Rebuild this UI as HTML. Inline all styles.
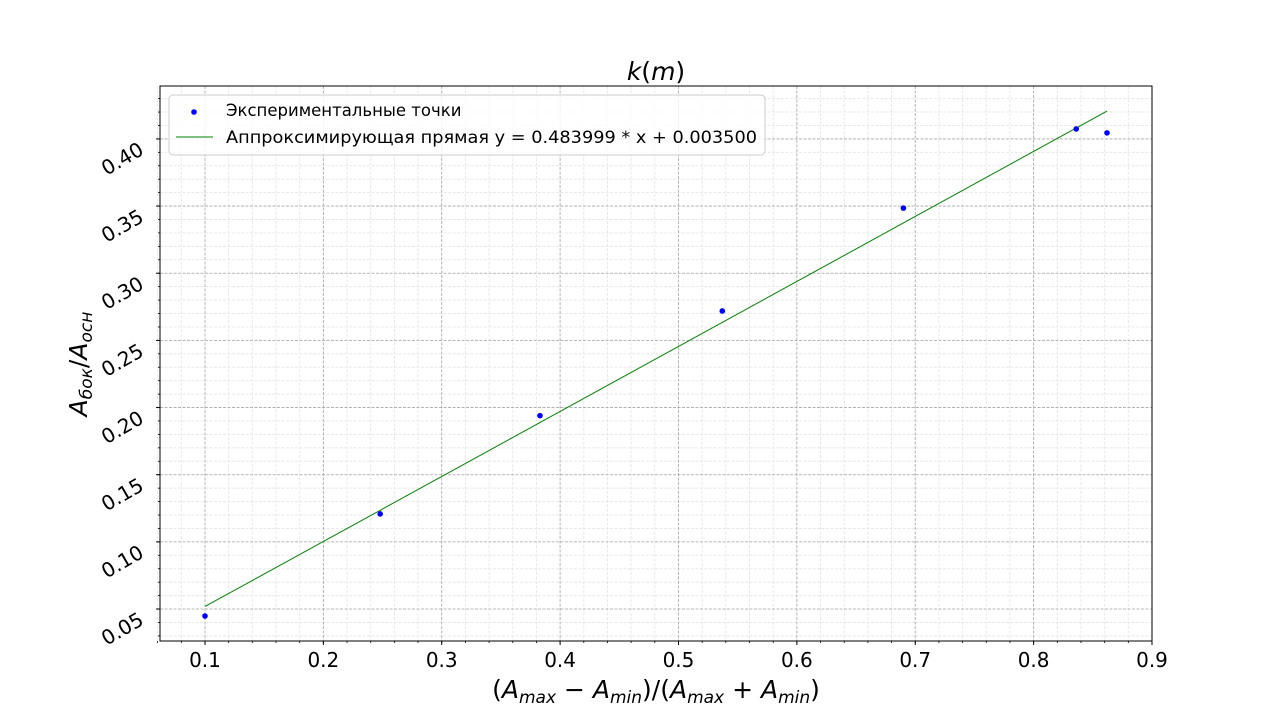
<!DOCTYPE html>
<html><head><meta charset="utf-8">
<style>
body{margin:0;background:#fff;}
svg{font-family:"DejaVu Sans","Liberation Sans",sans-serif;}
</style></head>
<body>
<svg id="chart" width="1280" height="720" xmlns="http://www.w3.org/2000/svg"></svg>
<script>
const xValues = [0.100, 0.248, 0.383, 0.537, 0.690, 0.836, 0.862];
const yValues = [0.0448, 0.1208, 0.194, 0.2719, 0.3485, 0.4074, 0.4045];
const fitSlope = 0.483999;
const fitIntercept = 0.003500;
const xTicks = [0.1,0.2,0.3,0.4,0.5,0.6,0.7,0.8,0.9];
const xTickLabels = ["0.1","0.2","0.3","0.4","0.5","0.6","0.7","0.8","0.9"];
const yTicks = [0.05,0.10,0.15,0.20,0.25,0.30,0.35,0.40];
const yTickLabels = ["0.05","0.10","0.15","0.20","0.25","0.30","0.35","0.40"];

const L=160,R=1152,T=86,B=641;
const xMin=0.062, xMax=0.9, yMin=0.0262, yMax=0.4394;
const sx=v=>L+(v-xMin)/(xMax-xMin)*(R-L);
const sy=v=>B-(v-yMin)/(yMax-yMin)*(B-T);
const svg=document.getElementById('chart');
const NS='http://www.w3.org/2000/svg';
function mk(tag,attrs,parent){const e=document.createElementNS(NS,tag);for(const k in attrs)e.setAttribute(k,attrs[k]);(parent||svg).appendChild(e);return e;}

for(let v=0.06; v<=0.9001; v+=0.02){const x=sx(v);
  const g=mk('line',{x1:x,x2:x,y1:T,y2:B,stroke:'#e8e8e8','stroke-width':1,'stroke-dasharray':'3,1.5'});
  
  const t=mk('line',{x1:x,x2:x,y1:B,y2:B+2,stroke:'#000','stroke-width':0.8});
  }
for(let v=0.03; v<=0.4394; v+=0.01){const y=sy(v);
  const g=mk('line',{x1:L,x2:R,y1:y,y2:y,stroke:'#e8e8e8','stroke-width':1,'stroke-dasharray':'3,1.5'});
  
  const t=mk('line',{x1:L-2,x2:L,y1:y,y2:y,stroke:'#000','stroke-width':0.8});
  }
xTicks.forEach((v,i)=>{const x=sx(v);
  const g=mk('line',{x1:x,x2:x,y1:T,y2:B,stroke:'#aaa','stroke-width':0.8,'stroke-dasharray':'3,1.5'});
  
  const t=mk('line',{x1:x,x2:x,y1:B,y2:B+4,stroke:'#000','stroke-width':1});
  
  const l=mk('text',{x:x,y:B+26,'text-anchor':'middle','font-size':20,fill:'#000'});
  l.textContent=xTickLabels[i];
  });
yTicks.forEach((v,i)=>{const y=sy(v);
  const g=mk('line',{x1:L,x2:R,y1:y,y2:y,stroke:'#aaa','stroke-width':0.8,'stroke-dasharray':'3,1.5'});
  
  const t=mk('line',{x1:L-4,x2:L,y1:y,y2:y,stroke:'#000','stroke-width':1});
  
  const l=mk('text',{x:0,y:0,'text-anchor':'middle','dominant-baseline':'middle','font-size':20,fill:'#000',transform:`translate(123,${y+21}) rotate(-30)`});
  l.textContent=yTickLabels[i];
  });
const fr=mk('rect',{x:L,y:T,width:R-L,height:B-T,fill:'none',stroke:'#000','stroke-width':1});

const x0=Math.min(...xValues), x1=Math.max(...xValues);
const fl=mk('line',{x1:sx(x0),y1:sy(fitSlope*x0+fitIntercept),x2:sx(x1),y2:sy(fitSlope*x1+fitIntercept),stroke:'#008000','stroke-width':1});

xValues.forEach((v,i)=>{const c=mk('circle',{cx:sx(v),cy:sy(yValues[i]),r:2.8,fill:'#0000ff'});
  });
const lg=mk('g',{});

mk('rect',{x:169,y:95,width:596,height:60,rx:4,fill:'#fff','fill-opacity':0.8,stroke:'#ccc'},lg);
mk('circle',{cx:194,cy:112,r:2.8,fill:'#0000ff'},lg);
mk('line',{x1:176,x2:213,y1:137,y2:137,stroke:'#008000','stroke-width':1},lg);
const t1=mk('text',{x:226,y:116,'font-size':16.5},lg);t1.textContent='Экспериментальные точки';

const t2=mk('text',{x:226,y:143,'font-size':16.5,textLength:531,lengthAdjust:'spacingAndGlyphs'},lg);t2.textContent='Аппроксимирующая прямая y = 0.483999 * x + 0.003500';

const ti=mk('text',{x:656,y:80,'text-anchor':'middle','font-size':25,'font-style':'italic'});
ti.innerHTML='k<tspan font-style="normal">(</tspan>m<tspan font-style="normal">)</tspan>';

const xl=mk('text',{x:656,y:698,'text-anchor':'middle','font-size':25});
xl.innerHTML='(<tspan font-style="italic">A</tspan><tspan font-size="17" dy="5" font-style="italic">max</tspan><tspan dy="-5"> − </tspan><tspan font-style="italic">A</tspan><tspan font-size="17" dy="5" font-style="italic">min</tspan><tspan dy="-5">)/(</tspan><tspan font-style="italic">A</tspan><tspan font-size="17" dy="5" font-style="italic">max</tspan><tspan dy="-5"> + </tspan><tspan font-style="italic">A</tspan><tspan font-size="17" dy="5" font-style="italic">min</tspan><tspan dy="-5">)</tspan>';

const yl=mk('text',{x:0,y:0,'text-anchor':'middle','font-size':25,transform:'translate(87,364) rotate(-90)'});
yl.innerHTML='<tspan font-style="italic">A</tspan><tspan font-size="17" dy="5" font-style="italic">бок</tspan><tspan dy="-5">/</tspan><tspan font-style="italic">A</tspan><tspan font-size="17" dy="5" font-style="italic">осн</tspan>';

</script>
</body></html>
